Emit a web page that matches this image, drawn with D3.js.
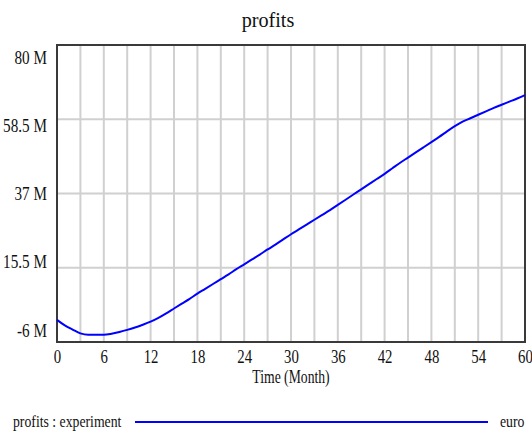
<!DOCTYPE html>
<html>
<head>
<meta charset="utf-8">
<script src="https://cdn.jsdelivr.net/npm/d3@7"></script>
<style>
  html, body { margin: 0; padding: 0; background: #fff; }
  svg { display: block; }
  text { font-family: "Liberation Serif", "Times New Roman", serif; fill: #111; }
</style>
</head>
<body>
<svg id="chart" width="532" height="435"></svg>
<script>
// ---- data ----
const title = "profits";
const months = d3.range(0, 61);
const profits = [
  0.4, -1.2, -2.4, -3.5, -3.9, -3.9, -3.9, -3.6, -3.1, -2.5,
  -1.8, -1.0, -0.1, 1.0, 2.3, 3.7, 5.1, 6.5, 8.0, 9.4,
  10.8, 12.2, 13.6, 15.1, 16.5, 17.9, 19.3, 20.8, 22.2, 23.7,
  25.2, 26.6, 28.0, 29.4, 30.8, 32.2, 33.7, 35.2, 36.7, 38.2,
  39.7, 41.2, 42.7, 44.3, 45.9, 47.4, 48.9, 50.4, 51.9, 53.4,
  55.0, 56.5, 57.8, 58.8, 59.8, 60.8, 61.8, 62.7, 63.6, 64.5, 65.5
];
const yTicks = [80, 58.5, 37, 15.5, -6];
const xTicks = [0, 6, 12, 18, 24, 30, 36, 42, 48, 54, 60];
const xGrid = d3.range(0, 61, 3);
const xLabel = "Time (Month)";
const legendName = "profits : experiment";
const legendUnit = "euro";

// ---- layout ----
const svg = d3.select("#chart");
const L = 57, R = 525, T = 45, B = 342;
const x = d3.scaleLinear().domain([0, 60]).range([L, R]);
const y = d3.scaleLinear().domain([-6, 80]).range([B, T]);

// title
svg.append("text")
  .attr("transform", `translate(268,27) scale(0.96,1)`)
  .attr("text-anchor", "middle")
  .style("font-size", "21px")
  .text(title);

// grid
const grid = svg.append("g");
grid.selectAll("line.v").data(xGrid).join("line")
  .attr("x1", d => x(d)).attr("x2", d => x(d))
  .attr("y1", T).attr("y2", B)
  .attr("stroke", "#d0d0d0").attr("stroke-width", 2);
grid.selectAll("line.h").data(yTicks).join("line")
  .attr("x1", L).attr("x2", R)
  .attr("y1", d => y(d)).attr("y2", d => y(d))
  .attr("stroke", "#d0d0d0").attr("stroke-width", 2);

// frame
svg.append("rect")
  .attr("x", L).attr("y", T).attr("width", R - L).attr("height", B - T)
  .attr("fill", "none").attr("stroke", "#3a3a3a").attr("stroke-width", 2);

// y axis
const yAxis = svg.append("g")
  .attr("transform", `translate(${L},0)`)
  .call(d3.axisLeft(y).tickValues(yTicks).tickSize(0).tickFormat(d => d + " M"));
yAxis.select(".domain").remove();
yAxis.selectAll(".tick text")
  .attr("x", null).attr("dy", null)
  .attr("transform", d => {
    const gy = y(d);
    const off = 11.7 - (gy - T) / (B - T) * 23.7;
    return `translate(-10,${off + 6.3}) scale(0.8,1)`;
  })
  .style("font-size", "19px")
  .style("font-family", "'Liberation Serif', serif")
  .attr("fill", "#111");

// x axis
const xAxis = svg.append("g")
  .attr("transform", `translate(0,${B})`)
  .call(d3.axisBottom(x).tickValues(xTicks).tickSize(0).tickFormat(d3.format("d")));
xAxis.select(".domain").remove();
xAxis.selectAll(".tick text")
  .attr("y", null).attr("dy", null)
  .attr("transform", "translate(0,21) scale(0.78,1)")
  .style("font-size", "19px")
  .style("font-family", "'Liberation Serif', serif")
  .attr("fill", "#111");

// x label
svg.append("text")
  .attr("transform", "translate(291,383) scale(0.76,1)")
  .attr("text-anchor", "middle")
  .style("font-size", "18px")
  .text(xLabel);

// series
const line = d3.line().x((d, i) => x(months[i])).y(d => y(d)).curve(d3.curveMonotoneX);
svg.append("path")
  .datum(profits)
  .attr("d", line)
  .attr("fill", "none")
  .attr("stroke", "#0000ff")
  .attr("stroke-width", 2);

// legend
svg.append("text")
  .attr("transform", "translate(13,427) scale(0.86,1)")
  .style("font-size", "16px")
  .text(legendName);
svg.append("line")
  .attr("x1", 135).attr("x2", 488).attr("y1", 422).attr("y2", 422)
  .attr("stroke", "#0000ff").attr("stroke-width", 2);
svg.append("text")
  .attr("transform", "translate(500,427) scale(0.86,1)")
  .style("font-size", "16px")
  .text(legendUnit);
</script>
</body>
</html>
